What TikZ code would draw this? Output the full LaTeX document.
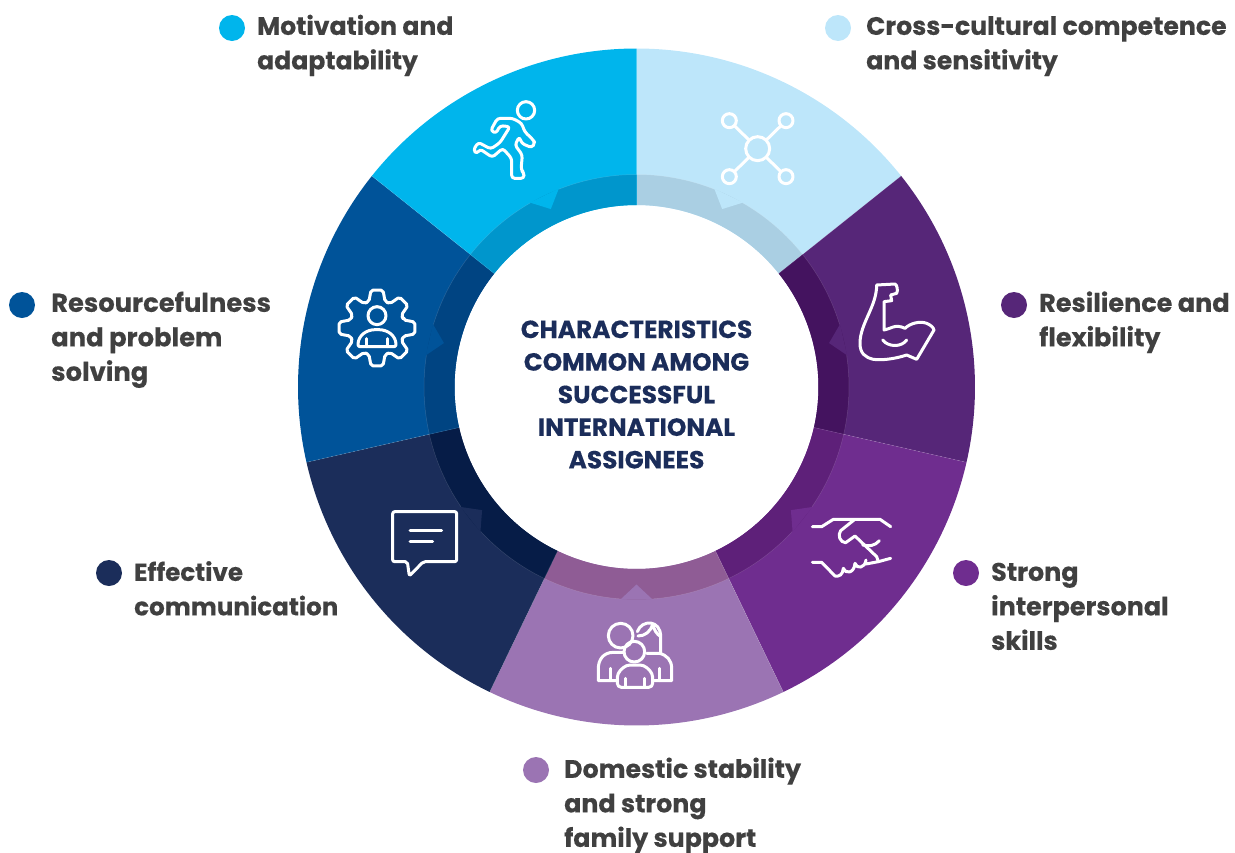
\documentclass[tikz,border=0pt]{standalone}
\usepackage{fontspec}
\setmainfont{Poppins}[BoldFeatures={FakeBold=0.35}]
\definecolor{cLight}{HTML}{BDE6FA}\definecolor{dLight}{HTML}{AACFE3}
\definecolor{cDeep}{HTML}{562678}\definecolor{dDeep}{HTML}{44135F}
\definecolor{cPurple}{HTML}{6F2D8F}\definecolor{dPurple}{HTML}{5E2079}
\definecolor{cLilac}{HTML}{9B74B3}\definecolor{dLilac}{HTML}{8F5C95}
\definecolor{cNavy}{HTML}{1B2D5A}\definecolor{dNavy}{HTML}{061C47}
\definecolor{cBlue}{HTML}{005399}\definecolor{dBlue}{HTML}{004482}
\definecolor{cCyan}{HTML}{00B5EC}\definecolor{dCyan}{HTML}{0096CC}
\definecolor{txt}{HTML}{404040}\definecolor{ctitle}{HTML}{1B2D5A}
\tikzset{
  lab/.style={anchor=north west,inner sep=0pt,align=left,text=txt,font=\fontsize{#1}{34.5}\selectfont\bfseries},
  ttl/.style={inner sep=0pt,align=center,text=ctitle,font=\fontsize{24.8}{32.6}\selectfont\bfseries},
  ico/.style={draw=white,line width=3pt,line join=round,line cap=round,fill=none},
  seam/.style={draw=white,draw opacity=.15,line width=.5pt},
  zoomgrid/.style={x=.33333pt,y=-.33333pt}
}
\begin{document}
\begin{tikzpicture}[x=1pt,y=1pt]
\useasboundingbox (0,0) rectangle (1235,-852);
\begin{scope}[shift={(636.5,-387)}]
\foreach \i/\c/\d in {0/cLight/dLight,1/cDeep/dDeep,2/cPurple/dPurple,3/cLilac/dLilac,4/cNavy/dNavy,5/cBlue/dBlue,6/cCyan/dCyan}{
  \pgfmathsetmacro\s{90-51.42857*\i}
  \pgfmathsetmacro\e{\s-51.42857}
  \pgfmathsetmacro\m{\s-25.71428}
  \fill[\c] (\s:182) -- (\s:338.5) arc[start angle=\s,end angle=\e,radius=338.5] -- (\e:182) arc[start angle=\e,end angle=\s,radius=182] -- cycle;
  \fill[\d] (\s:182) -- (\s:212.5) arc[start angle=\s,end angle=\e,radius=212.5] -- (\e:182) arc[start angle=\e,end angle=\s,radius=182] -- cycle;
  \fill[\c] (\m+4.3:213) -- (\m:197.5) -- (\m-4.3:213) -- cycle;
  \draw[seam] (\s:212.5) arc[start angle=\s,end angle=\m+4.3,radius=212.5];
  \draw[seam] (\m-4.3:212.5) arc[start angle=\m-4.3,end angle=\e,radius=212.5];
  \draw[seam] (\s:182) -- (\s:338.5);
}
\end{scope}

% centre title
\node[ttl] (title) at (636.5,-394.5) {CHARACTERISTICS\\COMMON AMONG\\SUCCESSFUL\\INTERNATIONAL\\ASSIGNEES};

% legend dots
\foreach \n/\x/\y/\c in {d1/838/28/cLight,d2/1014/305/cDeep,d3/966/573/cPurple,d4/536/770/cLilac,d5/109/573/cNavy,d6/22/305/cBlue,d7/232/28/cCyan}
  \fill[\c] (\x,-\y) circle (13);

% labels
\node[lab=25.2] (l1) at (866,-10.5) {\strut Cross-cultural competence\\and sensitivity};
\node[lab=25.5] (l2) at (1039,-287.5) {\strut Resilience and\\flexibility};
\node[lab=25.4] (l3) at (991,-556.5) {\strut Strong\\interpersonal\\skills};
\node[lab=25.3] (l4) at (564,-753.5) {\strut Domestic stability\\and strong\\family support};
\node[lab=24.6] (l5) at (134,-556.5) {\strut Effective\\communication};
\node[lab=25.8] (l6) at (51,-287.5) {\strut Resourcefulness\\and problem\\solving};
\node[lab=25.1] (l7) at (257,-10.5) {\strut Motivation and\\adaptability};

% network icon
\begin{scope}[shift={(420,-80)},zoomgrid]
  \draw[ico] (1013,206) circle[radius=36];
  \foreach \x/\y in {928/122,1098/122,928/290,1098/290}{
    \draw[ico] (\x,\y) circle[radius=21];
  }
  \draw[ico] (944,138) -- (986,179);
  \draw[ico] (1082,138) -- (1040,179);
  \draw[ico] (944,274) -- (986,233);
  \draw[ico] (1082,274) -- (1040,233);
\end{scope}

% runner icon
\begin{scope}[shift={(420,-80)},zoomgrid]
  \draw[ico] (318,91) circle[radius=26];
  \draw[ico,rounded corners=3pt] (232,115) -- (278,115) -- (305,130) -- (314,155) -- (340,180) -- (345,190) -- (335,203) -- (305,190) -- (298,170) -- (285,195) -- (307,225) -- (303,270) -- (312,278) -- (312,295) -- (275,295) -- (275,235) -- (248,205) -- (217,232) -- (180,207) -- (170,222) -- (160,210) -- (175,187) -- (212,207) -- (240,188) -- (270,140) -- (240,137) -- (228,160) -- (212,152) -- cycle;
\end{scope}

% arm icon
\begin{scope}[shift={(780,-260)},zoomgrid]
  \draw[ico] (290,75) -- (345,72) .. controls (352,75) and (354,92) .. (350,100) -- (332,105) -- (335,122) -- (312,125) -- (312,210)
    .. controls (330,208) and (345,190) .. (375,205) .. controls (390,190) and (420,182) .. (440,190)
    .. controls (452,195) and (460,202) .. (462,210) -- (410,298) -- (380,285)
    .. controls (350,295) and (310,302) .. (280,298) .. controls (255,292) and (240,280) .. (240,250)
    .. controls (240,190) and (290,140) .. (290,75) -- cycle;
  \draw[ico] (308,240) .. controls (325,262) and (365,262) .. (380,240);
\end{scope}

% handshake icon
\begin{scope}[shift={(780,-260)},zoomgrid]
  \draw[ico] (97,800) -- (125,800) -- (160,778) -- (300,778) -- (332,800);
  \draw[ico] (222,780) -- (182,812) .. controls (172,825) and (180,848) .. (197,848) -- (225,828) -- (290,890) -- (295,905);
  \draw[ico] (248,855) .. controls (265,860) and (285,858) .. (298,842);
  \draw[ico] (97,907) -- (125,907) -- (165,948) .. controls (178,950) and (188,945) .. (190,925)
     .. controls (195,942) and (222,942) .. (225,910) .. controls (230,928) and (255,925) .. (258,900);
  \draw[ico] (258,912) -- (295,905) -- (332,895);
\end{scope}

% family icon
\begin{scope}[shift={(370,-490)},zoomgrid]
  \draw[ico] (752,437) circle[radius=37];
  \draw[ico] (793,485) circle[radius=31];
  \draw[ico] (802,425) .. controls (815,388) and (872,388) .. (872,440) -- (872,490);
  \draw[ico] (804,438) .. controls (825,438) and (842,425) .. (848,402) .. controls (852,420) and (860,432) .. (872,440);
  \draw[ico] (762,487) -- (730,487) .. controls (700,487) and (685,510) .. (685,535) -- (685,572) -- (740,572);
  \draw[ico] (722,535) -- (722,572);
  \draw[ico] (830,490) -- (868,490) .. controls (890,495) and (905,510) .. (905,535) -- (905,572) -- (850,572);
  \draw[ico] (868,535) -- (868,572);
  \draw[ico,rounded corners=4pt] (768,525) -- (822,525) -- (848,550) -- (848,592) -- (742,592) -- (742,550) -- cycle;
  \draw[ico] (765,565) -- (765,592);
  \draw[ico] (822,565) -- (822,592);
\end{scope}

% gear icon
\begin{scope}[shift={(330,-282)},zoomgrid]
  \begin{scope}[shift={(141,138)}]
  \draw[ico,rounded corners=2pt] (-17:83) \foreach \a in {0,45,...,315}{ -- (\a-17:83) -- (\a-9:115) -- (\a+9:115) -- (\a+17:83) } -- cycle;
  \end{scope}
  \draw[ico] (141,101) circle[radius=27];
  \draw[ico,rounded corners=2pt] (84,194) .. controls (84,160) and (110,143) .. (141,143) .. controls (172,143) and (198,160) .. (198,194) -- cycle;
  \draw[ico] (110,170) -- (110,194);
  \draw[ico] (172,170) -- (172,194);
\end{scope}

% speech bubble icon
\begin{scope}[shift={(370,-490)},zoomgrid]
  \draw[ico,rounded corners=2pt] (68,65) -- (260,65) -- (260,215) -- (160,215) -- (118,258) -- (112,215) -- (68,215) -- cycle;
  \draw[ico] (120,120) -- (215,120);
  \draw[ico] (120,155) -- (188,155);
\end{scope}
\end{tikzpicture}
\end{document}
